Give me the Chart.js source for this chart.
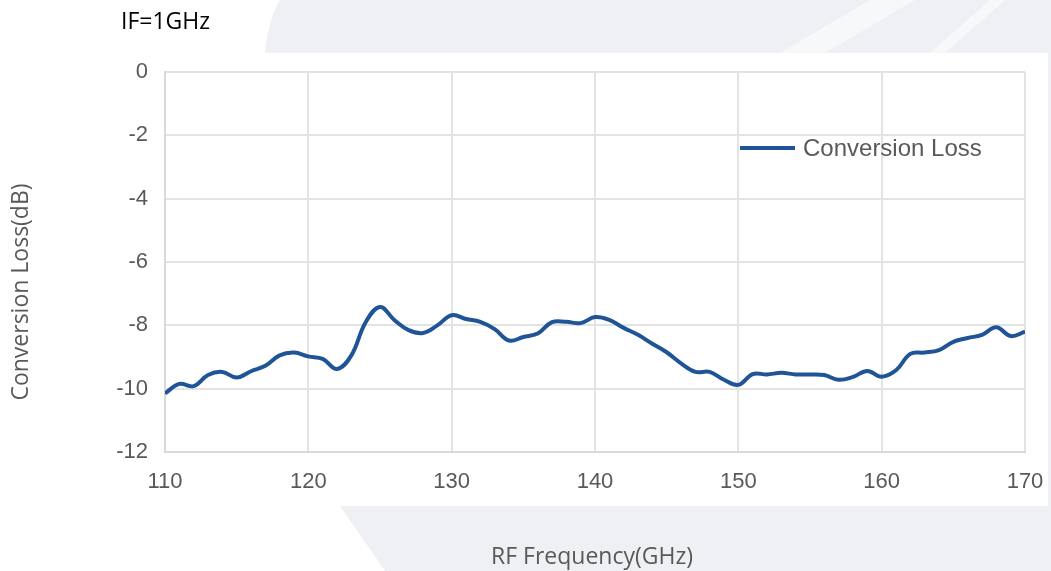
<!DOCTYPE html>
<html><head><meta charset="utf-8">
<script src="https://cdn.jsdelivr.net/npm/chart.js@4"></script>
<style>html,body{margin:0;padding:0;background:#fff;overflow:hidden}</style>
</head><body>
<canvas id="c" width="1051" height="571" style="display:block;width:1051px;height:571px"></canvas>
<script>
const frequencies = [110,111,112,113,114,115,116,117,118,119,120,121,122,123,124,125,126,127,128,129,130,131,132,133,134,135,136,137,138,139,140,141,142,143,144,145,146,147,148,149,150,151,152,153,154,155,156,157,158,159,160,161,162,163,164,165,166,167,168,169,170];
const conversionLoss = [-10.15,-9.85,-9.92,-9.57,-9.47,-9.65,-9.45,-9.28,-8.95,-8.86,-8.98,-9.06,-9.38,-8.95,-7.9,-7.42,-7.83,-8.15,-8.24,-8.0,-7.68,-7.8,-7.89,-8.12,-8.48,-8.37,-8.26,-7.9,-7.89,-7.93,-7.74,-7.83,-8.08,-8.3,-8.58,-8.85,-9.2,-9.47,-9.47,-9.72,-9.88,-9.54,-9.55,-9.5,-9.55,-9.55,-9.57,-9.72,-9.63,-9.44,-9.62,-9.42,-8.9,-8.86,-8.78,-8.52,-8.4,-8.3,-8.06,-8.34,-8.2];
const seriesLabel = 'Conversion Loss';
const chartNote = 'IF=1GHz';
const xTitle = 'RF Frequency(GHz)';
const yTitle = 'Conversion Loss(dB)';
const xMin = 110, xMax = 170, xStep = 10;
const yMin = -12, yMax = 0, yStep = 2;

const lineColor = '#1f5597';
const textGray = '#595959';

const backgroundPlugin = {
  id: 'bg',
  beforeDraw(chart) {
    const ctx = chart.ctx;
    ctx.save();
    ctx.fillStyle = '#ffffff';
    ctx.fillRect(0, 0, chart.width, chart.height);
    ctx.fillStyle = '#eef0f4';
    ctx.beginPath();
    ctx.moveTo(265, 53);
    ctx.quadraticCurveTo(268, 20, 280, 0);
    ctx.lineTo(1051, 0);
    ctx.lineTo(1051, 53);
    ctx.closePath();
    ctx.fill();
    ctx.beginPath();
    ctx.moveTo(340, 506);
    ctx.lineTo(1051, 506);
    ctx.lineTo(1051, 571);
    ctx.lineTo(385, 571);
    ctx.closePath();
    ctx.fill();
    ctx.fillRect(1048, 53, 3, 453);
    ctx.fillStyle = '#f7f8fa';
    ctx.beginPath();
    ctx.moveTo(780, 53); ctx.lineTo(825, 53); ctx.lineTo(915, 0); ctx.lineTo(870, 0); ctx.closePath(); ctx.fill();
    ctx.beginPath();
    ctx.moveTo(930, 53); ctx.lineTo(945, 53); ctx.lineTo(1005, 0); ctx.lineTo(990, 0); ctx.closePath(); ctx.fill();
    ctx.restore();
  }
};

const notePlugin = {
  id: 'note',
  afterDraw(chart) {
    const ctx = chart.ctx;
    ctx.save();
    ctx.font = '23px "Open Sans"';
    ctx.fillStyle = '#000000';
    ctx.textBaseline = 'middle';
    ctx.textAlign = 'left';
    ctx.fillText(chartNote, 121, 22);
    ctx.save();
    ctx.translate(21, 292);
    ctx.rotate(-Math.PI / 2);
    ctx.textAlign = 'center';
    ctx.fillStyle = textGray;
    ctx.font = '23px "Open Sans"';
    ctx.fillText(yTitle, 0, 0);
    ctx.restore();
    ctx.textAlign = 'center';
    ctx.fillStyle = textGray;
    ctx.font = '23px "Open Sans"';
    ctx.fillText(xTitle, 592, 557);
    ctx.textAlign = 'left';
    const ds = chart.data.datasets[0];
    ctx.strokeStyle = ds.borderColor;
    ctx.lineWidth = ds.borderWidth;
    ctx.beginPath();
    ctx.moveTo(740, 148);
    ctx.lineTo(795, 148);
    ctx.stroke();
    ctx.font = '24px "Liberation Sans"';
    ctx.fillStyle = textGray;
    ctx.fillText(ds.label, 803, 149);
    ctx.restore();
  }
};

new Chart(document.getElementById('c'), {
  type: 'line',
  data: {
    datasets: [{
      label: seriesLabel,
      data: frequencies.map((f, i) => ({x: f, y: conversionLoss[i]})),
      borderColor: lineColor,
      borderWidth: 4,
      pointRadius: 0,
      tension: 0.4,
      fill: false
    }]
  },
  options: {
    responsive: false,
    animation: false,
    layout: {padding: {top: 72, right: 26, left: 0, bottom: 0}},
    plugins: {legend: {display: false}, tooltip: {enabled: false}},
    scales: {
      x: {
        type: 'linear', min: xMin, max: xMax,
        afterFit(s) { s.height = 119; s.paddingRight = 0; s.paddingLeft = 0; },
        ticks: {stepSize: xStep, padding: 17, color: textGray, font: {family: '"Liberation Sans"', size: 22}, maxRotation: 0},
        grid: {color: '#e3e3e3', lineWidth: 2, drawTicks: false},
        border: {color: '#d9d9d9', width: 2},
        title: {display: false}
      },
      y: {
        min: yMin, max: yMax,
        afterFit(s) { s.width = 165; },
        ticks: {stepSize: yStep, padding: 17, color: textGray, font: {family: '"Liberation Sans"', size: 22}},
        grid: {color: '#e3e3e3', lineWidth: 2, drawTicks: false},
        border: {color: '#d9d9d9', width: 2},
        title: {display: false}
      }
    }
  },
  plugins: [backgroundPlugin, notePlugin]
});
</script>
</body></html>
